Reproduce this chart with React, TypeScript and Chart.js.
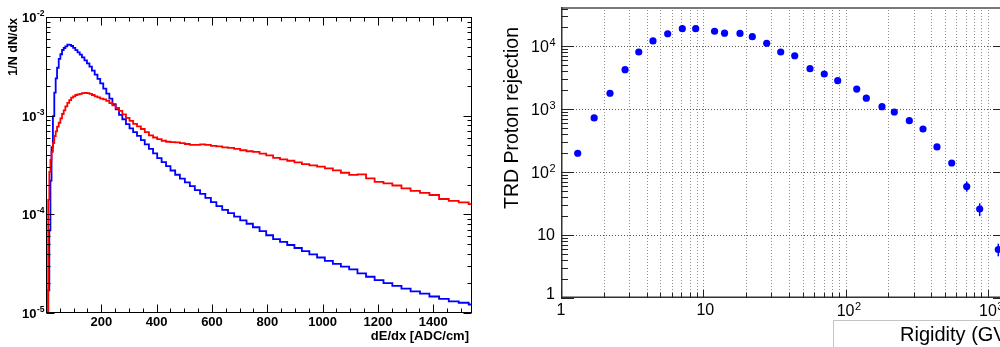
import { useEffect, useRef } from "react";
import { Chart, registerables } from "chart.js";

Chart.register(...registerables);

// ---------- Left panel: dE/dx distributions (variable-width bins) ----------
const binEdges = [
  8, 12, 16, 20, 25, 30, 35, 40, 46, 52,
  58, 64, 70, 77, 84, 91, 98, 106, 114, 122,
  130, 139, 148, 157, 166, 176, 186, 196, 207, 218,
  229, 240, 252, 264, 276, 289, 302, 315, 329, 343,
  357, 372, 387, 402, 418, 434, 450, 467, 484, 502,
  520, 538, 557, 576, 596, 616, 637, 658, 680, 702,
  725, 748, 772, 796, 821, 846, 872, 898, 925, 952,
  980, 1008, 1037, 1066, 1096, 1126, 1157, 1188, 1220, 1252,
  1285, 1318, 1352, 1386, 1421, 1456, 1492, 1528, 1565,
];

const blueHist = [
  1.7e-5, 6.9e-5, 2.2e-4, 4.8e-4, 9.9e-4, 1.71e-3, 2.39e-3, 3.06e-3, 3.77e-3, 4.19e-3,
  4.63e-3, 4.85e-3, 5.05e-3, 5.25e-3, 5.22e-3, 5.08e-3, 4.86e-3, 4.62e-3, 4.39e-3, 4.15e-3,
  3.89e-3, 3.63e-3, 3.39e-3, 3.14e-3, 2.86e-3, 2.61e-3, 2.36e-3, 2.12e-3, 1.88e-3, 1.67e-3,
  1.49e-3, 1.31e-3, 1.16e-3, 1.02e-3, 9.2e-4, 8.2e-4, 7.43e-4, 6.82e-4, 6.23e-4, 5.65e-4,
  5.11e-4, 4.61e-4, 4.14e-4, 3.72e-4, 3.38e-4, 3.08e-4, 2.78e-4, 2.52e-4, 2.3e-4, 2.11e-4,
  1.93e-4, 1.76e-4, 1.61e-4, 1.47e-4, 1.33e-4, 1.21e-4, 1.11e-4, 1.03e-4, 9.46e-5, 8.7e-5,
  8.03e-5, 7.4e-5, 6.76e-5, 6.14e-5, 5.62e-5, 5.25e-5, 4.89e-5, 4.56e-5, 4.24e-5, 3.93e-5,
  3.65e-5, 3.38e-5, 3.14e-5, 2.95e-5, 2.77e-5, 2.52e-5, 2.33e-5, 2.15e-5, 2.01e-5, 1.88e-5,
  1.77e-5, 1.66e-5, 1.57e-5, 1.47e-5, 1.39e-5, 1.31e-5, 1.27e-5, 1.22e-5,
];

const redHist = [
  1.4e-4, 2.69e-4, 3.56e-4, 4.29e-4, 5.28e-4, 6.22e-4, 6.92e-4, 7.74e-4, 8.48e-4, 9.37e-4,
  1.04e-3, 1.13e-3, 1.24e-3, 1.35e-3, 1.44e-3, 1.52e-3, 1.57e-3, 1.62e-3, 1.64e-3, 1.66e-3,
  1.69e-3, 1.7e-3, 1.69e-3, 1.66e-3, 1.62e-3, 1.57e-3, 1.53e-3, 1.49e-3, 1.46e-3, 1.41e-3,
  1.34e-3, 1.27e-3, 1.2e-3, 1.12e-3, 1.03e-3, 9.48e-4, 8.84e-4, 8.24e-4, 7.78e-4, 7.33e-4,
  6.8e-4, 6.3e-4, 6.01e-4, 5.78e-4, 5.57e-4, 5.44e-4, 5.39e-4, 5.35e-4, 5.26e-4, 5.16e-4,
  5.06e-4, 5.05e-4, 5.11e-4, 5.05e-4, 4.93e-4, 4.88e-4, 4.77e-4, 4.72e-4, 4.6e-4, 4.46e-4,
  4.36e-4, 4.29e-4, 4.12e-4, 3.95e-4, 3.74e-4, 3.6e-4, 3.49e-4, 3.36e-4, 3.22e-4, 3.13e-4,
  3.04e-4, 2.92e-4, 2.79e-4, 2.64e-4, 2.51e-4, 2.54e-4, 2.31e-4, 2.13e-4, 2.06e-4, 1.96e-4,
  1.83e-4, 1.73e-4, 1.65e-4, 1.57e-4, 1.43e-4, 1.37e-4, 1.32e-4, 1.27e-4,
];

const emptyBinValue = 1e-9;
const dedxMin = 0;
const dedxMax = 1540;
const dedxMajorTicks = [200, 400, 600, 800, 1000, 1200, 1400];
const dedxMinorTicks = [50, 100, 150, 250, 300, 350, 450, 500, 550, 650, 700, 750, 850, 900, 950, 1050, 1100, 1150, 1250, 1300, 1350, 1450, 1500];
const densityDecades = [-5, -4, -3, -2];

// ---------- Right panel: TRD proton rejection vs rigidity ----------
const rigidity = [
  1.31, 1.71, 2.21, 2.82, 3.52, 4.43, 5.62, 7.12, 8.84, 12.0,
  14.1, 18.1, 22.1, 27.9, 35.0, 43.9, 56.2, 70.8, 88.0, 119.7,
  139.8, 180.2, 219.9, 280.4, 349.9, 438.7, 556.7, 709.7, 875.6, 1183,
];
const rejection = [
  200, 730, 1800, 4270, 8150, 12200, 15900, 19100, 19100, 17400,
  16200, 16100, 14300, 11200, 8150, 7100, 4420, 3640, 2850, 2100,
  1500, 1100, 906, 660, 486, 252, 140, 59, 26, 5.9,
];
const rejectionErrLow: (number | null)[] = [
  null, null, null, null, null, null, null, null, null, null,
  null, null, null, null, null, null, null, null, null, null,
  null, null, null, null, null, null, null, 49, 20, 4.6,
];
const rejectionErrHigh: (number | null)[] = [
  null, null, null, null, null, null, null, null, null, null,
  null, null, null, null, null, null, null, null, null, null,
  null, null, null, null, null, null, null, 71, 32, 7.3,
];
const rigidityMin = 1;
const rigidityMax = 1256;
const rejectionMin = 1;
const rejectionMax = 42300;
const rigidityDecades = [0, 1, 2, 3];
const rejectionDecades = [0, 1, 2, 3, 4];
const mantissas = [1, 2, 3, 4, 5, 6, 7, 8, 9];

const BOLD = (s: number) => `bold ${s}px "Liberation Sans", Arial, Helvetica, sans-serif`;
const REG = (s: number) => `${s}px "Liberation Sans", Arial, Helvetica, sans-serif`;

function drawPow(
  ctx: CanvasRenderingContext2D,
  base: string,
  exp: string,
  x: number,
  y: number,
  baseFont: string,
  supFont: string,
  align: "right" | "center",
  rise: number
) {
  ctx.font = baseFont;
  const wb = ctx.measureText(base).width;
  ctx.font = supFont;
  const we = exp ? ctx.measureText(exp).width : 0;
  const x0 = align === "right" ? x - wb - we : x - wb / 2;
  ctx.textAlign = "left";
  ctx.textBaseline = "middle";
  ctx.font = baseFont;
  ctx.fillText(base, x0, y);
  if (exp) {
    ctx.font = supFont;
    ctx.fillText(exp, x0 + wb + 0.5, y - rise);
  }
}

function stepPoints(values: number[]) {
  const pts: { x: number; y: number }[] = [{ x: binEdges[0], y: emptyBinValue }];
  values.forEach((v, i) => pts.push({ x: binEdges[i], y: v }));
  pts.push({ x: binEdges[binEdges.length - 1], y: values[values.length - 1] });
  return pts;
}

const leftDecor = {
  id: "leftDecor",
  afterDraw(chart: any) {
    const { ctx, chartArea: a, scales } = chart;
    const xs = scales.x;
    const ys = scales.y;
    ctx.save();
    ctx.strokeStyle = "#000";
    ctx.lineWidth = 1;
    const L = a.left + 0.5, R = a.right - 0.5, T = a.top + 0.5, B = a.bottom - 0.5;
    ctx.strokeRect(L, T, R - L, B - T);
    ctx.beginPath();
    const xt = (v: number, len: number) => {
      const px = Math.round(xs.getPixelForValue(v)) + 0.5;
      ctx.moveTo(px, B);
      ctx.lineTo(px, B - len);
      ctx.moveTo(px, T);
      ctx.lineTo(px, T + len);
    };
    dedxMajorTicks.forEach((v) => xt(v, 8));
    dedxMinorTicks.forEach((v) => xt(v, 4));
    densityDecades.forEach((d) => {
      mantissas.forEach((m) => {
        const v = m * Math.pow(10, d);
        if (v < ys.min * 0.999 || v > ys.max * 1.001) return;
        const py = Math.round(ys.getPixelForValue(v)) + 0.5;
        const len = m === 1 ? 8 : 4;
        ctx.moveTo(L, py);
        ctx.lineTo(L + len, py);
        ctx.moveTo(R, py);
        ctx.lineTo(R - len, py);
      });
    });
    ctx.stroke();

    ctx.fillStyle = "#000";
    dedxMajorTicks.forEach((v) => {
      ctx.font = BOLD(13);
      ctx.textAlign = "center";
      ctx.textBaseline = "middle";
      ctx.fillText(String(v), xs.getPixelForValue(v), a.bottom + 9);
    });
    densityDecades.forEach((d) => {
      const py = ys.getPixelForValue(Math.pow(10, d));
      drawPow(ctx, "10", String(d), a.left - 2, py + 1.5, BOLD(13), BOLD(8.5), "right", 5);
    });

    ctx.font = BOLD(13);
    ctx.textAlign = "right";
    ctx.textBaseline = "middle";
    ctx.fillText("dE/dx [ADC/cm]", 469, 336.5);

    ctx.save();
    ctx.translate(14, 18);
    ctx.rotate(-Math.PI / 2);
    ctx.font = BOLD(12.5);
    ctx.textAlign = "right";
    ctx.textBaseline = "middle";
    ctx.fillText("1/N dN/dx", 0, 0);
    ctx.restore();
    ctx.restore();
  },
};

const rightDecor = {
  id: "rightDecor",
  beforeDatasetsDraw(chart: any) {
    const { ctx, chartArea: a, scales } = chart;
    const xs = scales.x;
    const ys = scales.y;
    ctx.save();
    ctx.lineWidth = 1;
    ctx.setLineDash([1, 2]);
    ctx.strokeStyle = "#8e8e8e";
    rigidityDecades.forEach((d) => {
      mantissas.forEach((m) => {
        const v = m * Math.pow(10, d);
        if (v <= xs.min * 1.001 || v > xs.max) return;
        const px = Math.round(xs.getPixelForValue(v)) + 0.5;
        ctx.beginPath();
        ctx.moveTo(px, a.top);
        ctx.lineTo(px, a.bottom);
        ctx.stroke();
      });
    });
    ctx.strokeStyle = "#555";
    rejectionDecades.forEach((d) => {
      const v = Math.pow(10, d);
      if (v <= ys.min * 1.001 || v > ys.max) return;
      const py = Math.round(ys.getPixelForValue(v)) + 0.5;
      ctx.beginPath();
      ctx.moveTo(a.left, py);
      ctx.lineTo(a.right, py);
      ctx.stroke();
    });
    ctx.restore();
  },
  afterDatasetsDraw(chart: any) {
    const { ctx, scales } = chart;
    const xs = scales.x;
    const ys = scales.y;
    ctx.save();
    ctx.strokeStyle = "#0000ff";
    ctx.lineWidth = 1.5;
    rigidity.forEach((r, i) => {
      const lo = rejectionErrLow[i];
      const hi = rejectionErrHigh[i];
      if (lo == null || hi == null) return;
      const px = xs.getPixelForValue(r);
      ctx.beginPath();
      ctx.moveTo(px, ys.getPixelForValue(lo));
      ctx.lineTo(px, ys.getPixelForValue(hi));
      ctx.stroke();
    });
    ctx.restore();
  },
  afterDraw(chart: any) {
    const { ctx, chartArea: a, scales } = chart;
    const xs = scales.x;
    const ys = scales.y;
    ctx.save();
    ctx.strokeStyle = "#7a7a7a";
    ctx.lineWidth = 2;
    ctx.beginPath();
    ctx.moveTo(a.left, a.top + 1);
    ctx.lineTo(a.right, a.top + 1);
    ctx.stroke();
    ctx.strokeStyle = "#333";
    ctx.lineWidth = 1.5;
    ctx.beginPath();
    ctx.moveTo(a.left + 0.75, a.top);
    ctx.lineTo(a.left + 0.75, a.bottom - 0.75);
    ctx.lineTo(a.right, a.bottom - 0.75);
    ctx.lineTo(a.right, a.top);
    ctx.stroke();

    ctx.lineWidth = 1;
    ctx.strokeStyle = "#222";
    ctx.beginPath();
    rejectionDecades.forEach((d) => {
      mantissas.forEach((m) => {
        const v = m * Math.pow(10, d);
        if (v > ys.max) return;
        const py = Math.round(ys.getPixelForValue(v)) + 0.5;
        const len = m === 1 ? 13 : 7;
        ctx.moveTo(a.left, py);
        ctx.lineTo(a.left + len, py);
        if (m === 1) {
          ctx.moveTo(a.right, py);
          ctx.lineTo(a.right - 9, py);
        }
      });
    });
    rigidityDecades.forEach((d) => {
      mantissas.forEach((m) => {
        const v = m * Math.pow(10, d);
        if (v > xs.max) return;
        const px = Math.round(xs.getPixelForValue(v)) + 0.5;
        const len = m === 1 ? 8 : 5;
        ctx.moveTo(px, a.bottom);
        ctx.lineTo(px, a.bottom - len);
      });
    });
    ctx.stroke();

    ctx.fillStyle = "#000";
    rejectionDecades.forEach((d) => {
      const py = ys.getPixelForValue(Math.pow(10, d));
      if (d === 0) {
        drawPow(ctx, "1", "", 55, py - 3, REG(16), REG(11), "right", 5);
      } else if (d === 1) {
        drawPow(ctx, "10", "", 55, py + 0.5, REG(16), REG(11), "right", 5);
      } else {
        drawPow(ctx, "10", String(d), 55, py + 1.5, REG(16), REG(11), "right", 5);
      }
    });
    rigidityDecades.forEach((d) => {
      const px = xs.getPixelForValue(Math.pow(10, d));
      if (d === 0) drawPow(ctx, "1", "", px, a.bottom + 13, REG(16), REG(11), "center", 5);
      else if (d === 1) drawPow(ctx, "10", "", px + 2, a.bottom + 13, REG(16), REG(11), "center", 5);
      else drawPow(ctx, "10", String(d), px, a.bottom + 14, REG(16), REG(11), "center", 5);
    });

    ctx.save();
    ctx.translate(12.5, 118);
    ctx.rotate(-Math.PI / 2);
    ctx.font = REG(19.5);
    ctx.textAlign = "center";
    ctx.textBaseline = "middle";
    ctx.fillText("TRD Proton rejection", 0, 0);
    ctx.restore();

    ctx.strokeStyle = "#c4c4c4";
    ctx.lineWidth = 1;
    ctx.beginPath();
    ctx.moveTo(333.5, 360);
    ctx.lineTo(333.5, 320.5);
    ctx.lineTo(560, 320.5);
    ctx.stroke();

    ctx.font = REG(20);
    ctx.textAlign = "left";
    ctx.textBaseline = "middle";
    ctx.fillText("Rigidity (GV)", 400, 335);
    ctx.restore();
  },
};

export default function App() {
  const leftRef = useRef<HTMLCanvasElement>(null);
  const rightRef = useRef<HTMLCanvasElement>(null);

  useEffect(() => {
    const hidden = {
      ticks: { display: false },
      grid: { display: false },
      border: { display: false },
      title: { display: false },
    };
    const left = new Chart(leftRef.current!, {
      type: "line",
      data: {
        datasets: [
          {
            label: "red",
            data: stepPoints(redHist),
            borderColor: "#ff0000",
            borderWidth: 1.8,
            pointRadius: 0,
            stepped: true,
            fill: false,
          },
          {
            label: "blue",
            data: stepPoints(blueHist),
            borderColor: "#0000ff",
            borderWidth: 1.8,
            pointRadius: 0,
            stepped: true,
            fill: false,
          },
        ],
      },
      options: {
        responsive: false,
        animation: false,
        devicePixelRatio: 1,
        layout: { padding: { left: 0, top: 17, right: 28, bottom: 0 } },
        plugins: { legend: { display: false }, tooltip: { enabled: false } },
        scales: {
          x: {
            type: "linear",
            min: dedxMin,
            max: dedxMax,
            ...hidden,
            afterFit: (s: any) => {
              s.height = 34;
            },
          },
          y: {
            type: "logarithmic",
            min: 1e-5,
            max: 1e-2,
            ...hidden,
            afterFit: (s: any) => {
              s.width = 46;
            },
          },
        },
      } as any,
      plugins: [leftDecor],
    });

    const right = new Chart(rightRef.current!, {
      type: "scatter",
      data: {
        datasets: [
          {
            label: "TRD Proton rejection",
            data: rigidity.map((r, i) => ({ x: r, y: rejection[i] })),
            backgroundColor: "#0000ff",
            borderColor: "#0000ff",
            borderWidth: 0,
            pointRadius: 3.6,
            showLine: false,
          },
        ],
      },
      options: {
        responsive: false,
        animation: false,
        devicePixelRatio: 1,
        layout: { padding: { left: 0, top: 7, right: 18, bottom: 0 } },
        plugins: { legend: { display: false }, tooltip: { enabled: false } },
        scales: {
          x: {
            type: "logarithmic",
            min: rigidityMin,
            max: rigidityMax,
            ...hidden,
            afterFit: (s: any) => {
              s.height = 49;
            },
          },
          y: {
            type: "logarithmic",
            min: rejectionMin,
            max: rejectionMax,
            ...hidden,
            afterFit: (s: any) => {
              s.width = 61;
            },
          },
        },
      } as any,
      plugins: [rightDecor],
    });

    return () => {
      left.destroy();
      right.destroy();
    };
  }, []);

  return (
    <div
      style={{
        position: "absolute",
        left: 0,
        top: 0,
        width: 1000,
        height: 347,
        overflow: "hidden",
        background: "#fff",
      }}
    >
      <canvas ref={leftRef} width={500} height={347} style={{ position: "absolute", left: 0, top: 0 }} />
      <canvas ref={rightRef} width={520} height={347} style={{ position: "absolute", left: 500, top: 0 }} />
    </div>
  );
}
